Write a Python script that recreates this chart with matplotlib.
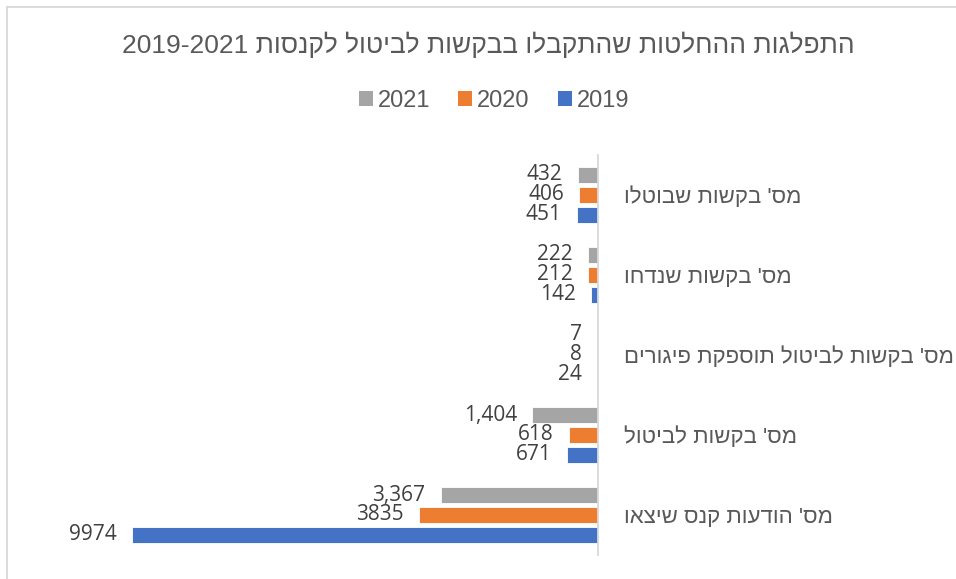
import re
import numpy as np
import matplotlib
matplotlib.use("Agg")
import matplotlib.pyplot as plt
from matplotlib.lines import Line2D
from matplotlib.patches import Patch

plt.rcParams["font.family"] = ["Liberation Sans", "DejaVu Sans"]

TITLE = "התפלגות ההחלטות שהתקבלו בבקשות לביטול לקנסות 2019-2021"
categories = [
    "מס' בקשות שבוטלו",
    "מס' בקשות שנדחו",
    "מס' בקשות לביטול תוספקת פיגורים",
    "מס' בקשות לביטול",
    "מס' הודעות קנס שיצאו",
]
years = ["2021", "2020", "2019"]
vals_2021 = [432, 222, 7, 1404, 3367]
vals_2020 = [406, 212, 8, 618, 3835]
vals_2019 = [451, 142, 24, 671, 9974]
labels_2021 = ["432", "222", "7", "1,404", "3,367"]
labels_2020 = ["406", "212", "8", "618", "3835"]
labels_2019 = ["451", "142", "24", "671", "9974"]
colors = ["#A5A5A5", "#ED7D31", "#4472C4"]


# matplotlib has no bidi support: flip the string, keep number runs left-to-right
def visual(s):
    r = s[::-1]
    return re.sub(r"[0-9][0-9,\-]*[0-9]", lambda m: m.group(0)[::-1], r)


def main():
    W, H = 956, 579
    fig = plt.figure(figsize=(W / 100, H / 100), dpi=100)
    ax = fig.add_axes([131 / W, 1 - 555 / H, 467 / W, 400 / H])

    y = np.arange(len(categories))
    series = [(vals_2021, labels_2021), (vals_2020, labels_2020), (vals_2019, labels_2019)]
    offsets = [-0.25, 0.0, 0.25]
    for (vals, labs), off, col in zip(series, offsets, colors):
        ax.barh(y + off, vals, height=0.2, color=col, edgecolor="white", linewidth=0.6)
        for yy, v, lab in zip(y + off, vals, labs):
            ax.annotate(lab, (v, yy), xytext=(-11, 0), textcoords="offset points",
                        ha="right", va="center", fontsize=15, color="#404040",
                        family=["Open Sans", "DejaVu Sans"])

    ax.set_xlim(10000, 0)
    ax.set_ylim(len(categories) - 0.5, -0.5)
    ax.set_xticks([])
    ax.yaxis.tick_right()
    ax.set_yticks(y)
    ax.set_yticklabels([visual(c) for c in categories], fontsize=16, color="#595959")
    ax.tick_params(axis="y", length=0, pad=19)
    for side in ["top", "left", "bottom"]:
        ax.spines[side].set_visible(False)
    ax.spines["right"].set_color("#D9D9D9")
    ax.spines["right"].set_linewidth(1.3)

    fig.text(488 / W, 1 - 45 / H, visual(TITLE), ha="center", va="center",
             fontsize=19, color="#595959")

    handles = [Patch(facecolor=c, edgecolor="none") for c in colors]
    fig.legend(handles, years, loc="center", bbox_to_anchor=(494 / W, 1 - 101 / H),
               ncol=3, frameon=False, fontsize=17, labelcolor="#595959",
               handlelength=0.6, handleheight=0.6, handletextpad=0.2, columnspacing=1.2)

    # chart frame edges visible in the screenshot (top and left only)
    fig.add_artist(Line2D([7 / W, 1], [1 - 7 / H, 1 - 7 / H], color="#D9D9D9", lw=1.3,
                          transform=fig.transFigure))
    fig.add_artist(Line2D([7 / W, 7 / W], [0, 1 - 7 / H], color="#D9D9D9", lw=1.3,
                          transform=fig.transFigure))

    fig.savefig("out.png", dpi=100)


if __name__ == "__main__":
    main()
